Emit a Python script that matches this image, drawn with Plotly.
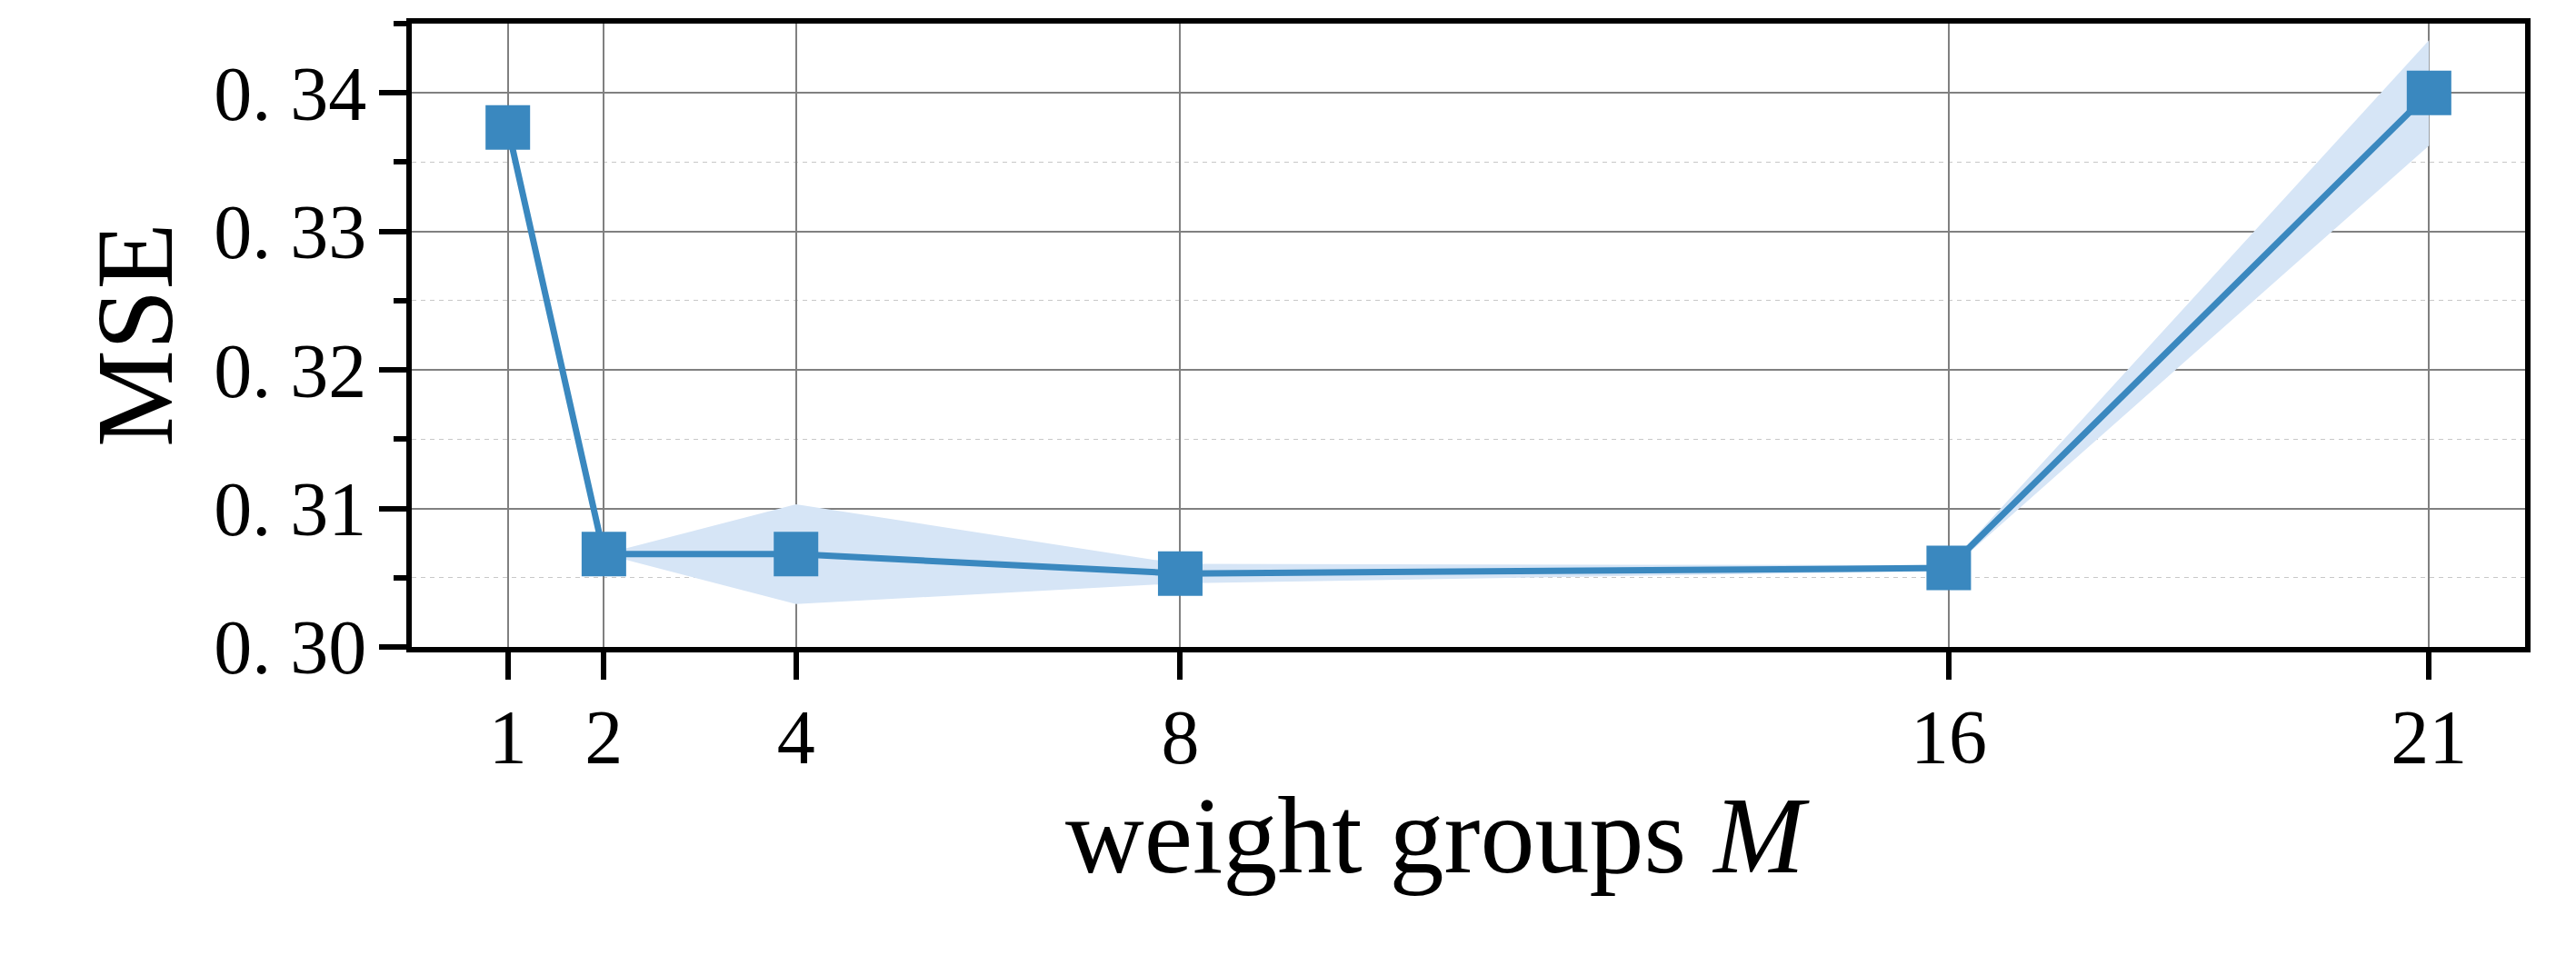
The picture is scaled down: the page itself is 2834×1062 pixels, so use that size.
import plotly.graph_objects as go

# Data
groups = [1, 2, 4, 8, 16, 21]
mse_mean = [0.3375, 0.3067, 0.3067, 0.3053, 0.3057, 0.3400]
mse_std = [0.0, 0.0, 0.0036, 0.0007, 0.0002, 0.0038]
ytick_vals = [0.30, 0.31, 0.32, 0.33, 0.34]
ytick_text = ["0. 30", "0. 31", "0. 32", "0. 33", "0. 34"]
yminor_vals = [0.305, 0.315, 0.325, 0.335, 0.345]
xtick_vals = [1, 2, 4, 8, 16, 21]
xtick_text = ["1", "2", "4", "8", "16", "21"]

upper = [m + s for m, s in zip(mse_mean, mse_std)]
lower = [m - s for m, s in zip(mse_mean, mse_std)]

LINE = "#3A88BF"
BAND = "rgb(214,229,246)"
FONT = "Liberation Serif"

fig = go.Figure()
fig.add_trace(go.Scatter(x=groups, y=upper, mode="lines", line=dict(width=0, color=BAND),
                         showlegend=False, hoverinfo="skip"))
fig.add_trace(go.Scatter(x=groups, y=lower, mode="lines", line=dict(width=0, color=BAND),
                         fill="tonexty", fillcolor=BAND, showlegend=False, hoverinfo="skip"))
fig.add_trace(go.Scatter(x=groups, y=mse_mean, mode="lines+markers",
                         line=dict(color=LINE, width=7),
                         marker=dict(symbol="square", size=49, color=LINE),
                         showlegend=False))

# page body has an 8px default margin, so the figure is offset by 8px
fig.update_layout(
    width=2834, height=1062,
    margin=dict(l=445, r=64, t=14, b=358),
    plot_bgcolor="white", paper_bgcolor="white",
    font=dict(family=FONT, color="black"),
    xaxis=dict(
        range=[0, 22], tickvals=xtick_vals, ticktext=xtick_text,
        tickfont=dict(family=FONT, size=84, color="black"),
        ticks="outside", ticklen=30, tickwidth=6, tickcolor="black",
        showline=True, linecolor="black", linewidth=6, mirror=True,
        showgrid=True, gridcolor="rgb(128,128,128)", gridwidth=2,
        zeroline=False, ticklabelstandoff=-9,
    ),
    yaxis=dict(
        range=[0.30, 0.345], tickvals=ytick_vals, ticktext=ytick_text,
        tickfont=dict(family=FONT, size=84, color="black"),
        ticks="outside", ticklen=30, tickwidth=6, tickcolor="black",
        showline=True, linecolor="black", linewidth=6, mirror=True,
        showgrid=True, gridcolor="rgb(128,128,128)", gridwidth=2,
        zeroline=False, ticklabelstandoff=-3,
        minor=dict(tickvals=yminor_vals, ticks="outside",
                   ticklen=14, tickwidth=6, tickcolor="black",
                   showgrid=True, gridcolor="rgb(200,200,200)", gridwidth=1.3,
                   griddash="5px,5px"),
    ),
    annotations=[
        dict(text="weight groups <i>M</i>", xref="paper", yref="paper", x=0.5, y=0,
             xanchor="center", yanchor="middle", yshift=-207, xshift=-34, showarrow=False,
             font=dict(family=FONT, size=120, color="black")),
        dict(text="MSE", xref="paper", yref="paper", x=0, y=0.5, textangle=-90,
             xanchor="center", yanchor="middle", xshift=-305, showarrow=False,
             font=dict(family=FONT, size=120, color="black")),
    ],
)

fig.write_html("out.html")
